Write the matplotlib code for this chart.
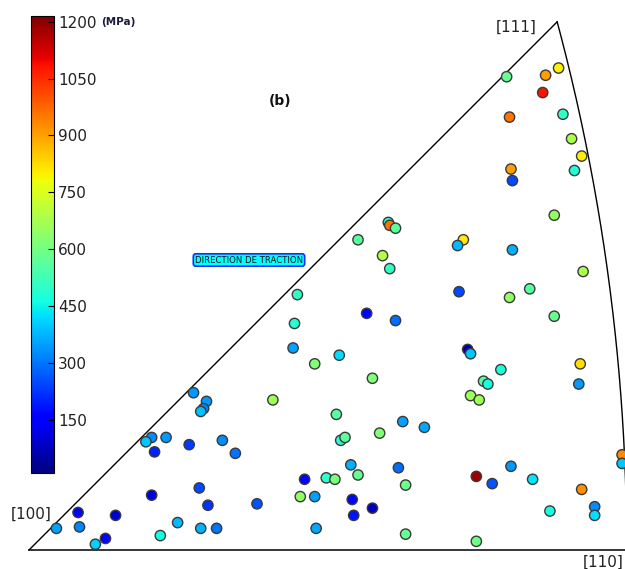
import numpy as np
import matplotlib
matplotlib.use("Agg")
import matplotlib.pyplot as plt

# Stereographic projection coordinates (projection axis [100]) and stress values (MPa)
x = [0.331, 0.358, 0.367, 0.356, 0.333, 0.370, 0.376, 0.383, 0.378, 0.334,
     0.335, 0.364, 0.301, 0.297, 0.335, 0.384, 0.298, 0.333, 0.347, 0.364,
     0.304, 0.306, 0.327, 0.315, 0.318, 0.306, 0.312, 0.382, 0.381, 0.249,
     0.250, 0.254, 0.228, 0.245, 0.250, 0.234, 0.254, 0.186, 0.184, 0.183,
     0.198, 0.215, 0.238, 0.114, 0.169, 0.123, 0.121, 0.119, 0.085, 0.081,
     0.095, 0.087, 0.111, 0.134, 0.143, 0.191, 0.188, 0.198, 0.085, 0.118,
     0.124, 0.158, 0.034, 0.035, 0.019, 0.060, 0.053, 0.046, 0.091, 0.103,
     0.119, 0.130, 0.199, 0.213, 0.259, 0.274, 0.243, 0.216, 0.219, 0.223,
     0.256, 0.228, 0.206, 0.212, 0.261, 0.310, 0.321, 0.334, 0.349, 0.383,
     0.411, 0.411, 0.224, 0.225, 0.238, 0.361, 0.392, 0.392, 0.261, 0.310]
y = [0.328, 0.329, 0.334, 0.317, 0.300, 0.302, 0.285, 0.273, 0.263, 0.264,
     0.256, 0.232, 0.215, 0.211, 0.208, 0.193, 0.179, 0.175, 0.181, 0.162,
     0.139, 0.136, 0.125, 0.117, 0.115, 0.107, 0.104, 0.129, 0.115, 0.227,
     0.225, 0.223, 0.215, 0.204, 0.195, 0.164, 0.159, 0.177, 0.157, 0.140,
     0.129, 0.135, 0.119, 0.109, 0.104, 0.103, 0.098, 0.096, 0.078, 0.075,
     0.078, 0.068, 0.073, 0.076, 0.067, 0.049, 0.037, 0.037, 0.038, 0.043,
     0.031, 0.032, 0.026, 0.016, 0.015, 0.024, 0.008, 0.004, 0.010, 0.019,
     0.015, 0.015, 0.015, 0.094, 0.089, 0.085, 0.081, 0.076, 0.078, 0.059,
     0.057, 0.052, 0.050, 0.049, 0.045, 0.051, 0.046, 0.058, 0.049, 0.042,
     0.066, 0.060, 0.035, 0.024, 0.029, 0.027, 0.030, 0.024, 0.011, 0.006]
stress = [580, 900, 800, 1080, 960, 500, 680, 800, 480, 900,
          250, 650, 810, 380, 370, 680, 250, 650, 560, 580,
          60, 400, 480, 560, 470, 660, 660, 820, 340, 500,
          960, 570, 560, 690, 500, 170, 290, 500, 490, 350,
          620, 420, 620, 340, 660, 340, 320, 390, 330, 400,
          340, 200, 230, 330, 300, 170, 650, 350, 110, 250,
          220, 260, 150, 320, 350, 100, 170, 410, 460, 380,
          370, 300, 360, 560, 350, 360, 620, 490, 570, 370,
          290, 580, 500, 610, 590, 1180, 260, 340, 430, 920,
          930, 400, 170, 180, 80, 470, 330, 420, 580, 590]

cbar_ticks = [150, 300, 450, 600, 750, 900, 1050, 1200]
pole_labels = ["[100]", "[111]", "[110]"]

W, H = 625, 569
fig = plt.figure(figsize=(W / 100, H / 100), dpi=100)
scale = 1443.0  # pixels per projection unit
x0_px, y0_px = 29, 550
ax = fig.add_axes([0, 0, 1, 1])
ax.set_xlim(-x0_px / scale, (W - x0_px) / scale)
ax.set_ylim(-(H - y0_px) / scale, y0_px / scale)
ax.axis("off")

# Standard triangle
p110 = np.tan(np.pi / 8)
p111 = (1 / np.sqrt(3)) / (1 + 1 / np.sqrt(3))
t = np.linspace(0, 1, 200)
n = np.sqrt(2 + t ** 2)
arc_x = 1 / (n + 1)
arc_y = t / (n + 1)
ax.plot([0, p110], [0, 0], color="black", lw=1.1)
ax.plot([0, p111], [0, p111], color="black", lw=1.0)
ax.plot(arc_x, arc_y, color="black", lw=1.0)

sc = ax.scatter(x, y, c=stress, cmap="jet", vmin=10, vmax=1215, s=55,
                edgecolors="#3a3a3a", linewidths=1.0, zorder=3, clip_on=False)

tc = "#222222"
ax.text(31 / scale - x0_px / scale, (y0_px - 514) / scale, pole_labels[0],
        ha="center", va="center", fontsize=11, color=tc)
ax.text(p111 - 41 / scale, p111 - 5 / scale, pole_labels[1],
        ha="center", va="center", fontsize=11, color=tc)
ax.text(p110 - 24 / scale, -12 / scale, pole_labels[2],
        ha="center", va="center", fontsize=11, color=tc)

ax.text((280 - x0_px) / scale, (y0_px - 101) / scale, "(b)", ha="center",
        va="center", fontsize=10, fontweight="bold", color="#111111")
ax.text((249 - x0_px) / scale, (y0_px - 260) / scale, "DIRECTION DE TRACTION",
        ha="center", va="center", fontsize=6.1, color="#111111",
        bbox=dict(boxstyle="round,pad=0.2,rounding_size=0.3", fc="#00ffff",
                  ec="#1030ff", lw=1.2))

# Colorbar
cax = fig.add_axes([31 / W, (H - 473) / H, 23 / W, 457 / H])
cb = fig.colorbar(sc, cax=cax, ticks=cbar_ticks)
cb.outline.set_linewidth(0.8)
cb.ax.tick_params(direction="in", length=4, width=0.8, labelsize=11,
                  labelcolor=tc, pad=3)
fig.text(101 / W, 1 - 22 / H, "(MPa)", fontsize=7.5, fontweight="bold",
         color="#1a1a40", va="center", ha="left")

fig.savefig("out.png", dpi=100)
